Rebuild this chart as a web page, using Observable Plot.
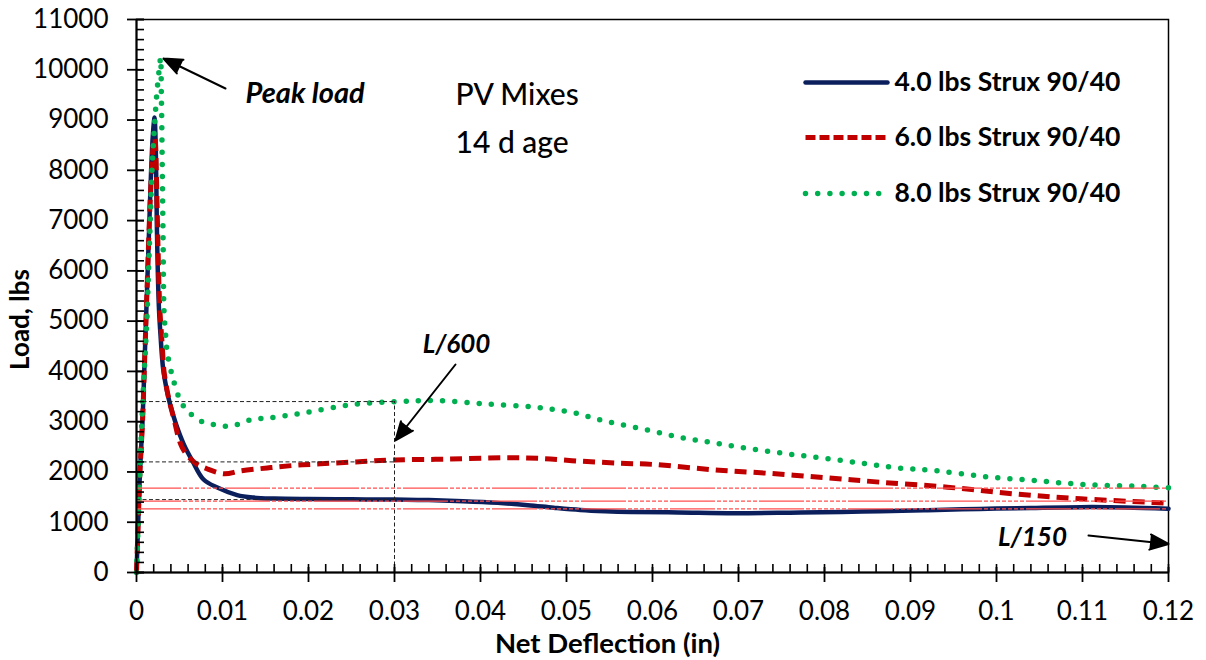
<!DOCTYPE html>
<html>
<head>
<meta charset="utf-8">
<script src="https://cdn.jsdelivr.net/npm/d3@7"></script>
<script src="https://cdn.jsdelivr.net/npm/@observablehq/plot@0.6"></script>
<style>
  html, body { margin: 0; padding: 0; background: #fff; }
  #chart { width: 1206px; height: 660px; }
</style>
</head>
<body>
<div id="chart"></div>
<script>
// ---------- data ----------
const seriesNames = ["4.0 lbs Strux 90/40", "6.0 lbs Strux 90/40", "8.0 lbs Strux 90/40"];

const deflection4 = [0, 0.0002, 0.0004, 0.0007, 0.0009, 0.0011, 0.0013, 0.0015, 0.0017, 0.0019, 0.0021, 0.0022, 0.0023, 0.0024, 0.0026, 0.0028, 0.0031, 0.0035, 0.0039, 0.0046, 0.0055, 0.0065, 0.0078, 0.0094, 0.0117, 0.0136, 0.016, 0.02, 0.025, 0.03, 0.034, 0.038, 0.042, 0.0455, 0.0485, 0.0516, 0.0545, 0.0575, 0.063, 0.0695, 0.076, 0.082, 0.0865, 0.092, 0.098, 0.104, 0.1098, 0.115, 0.12];
const load4 = [0, 1000, 2000, 3000, 4000, 5000, 6000, 7000, 8000, 8700, 9050, 8700, 7800, 6600, 5300, 4700, 4050, 3650, 3350, 2950, 2550, 2220, 1850, 1690, 1540, 1490, 1470, 1460, 1455, 1450, 1440, 1418, 1385, 1340, 1290, 1245, 1220, 1205, 1195, 1180, 1190, 1205, 1220, 1240, 1265, 1285, 1300, 1295, 1270];

const deflection6 = [0, 0.0002, 0.0004, 0.0007, 0.0009, 0.0011, 0.0013, 0.0015, 0.0017, 0.0019, 0.0021, 0.0022, 0.0023, 0.0025, 0.0027, 0.003, 0.0032, 0.0037, 0.0043, 0.0053, 0.0067, 0.0082, 0.0102, 0.0121, 0.0152, 0.0183, 0.0214, 0.0255, 0.03, 0.0361, 0.0427, 0.047, 0.0516, 0.0563, 0.0602, 0.0667, 0.0733, 0.0803, 0.0865, 0.0943, 0.102, 0.1098, 0.12];
const load6 = [0, 1000, 2000, 3000, 4000, 5000, 6000, 7000, 7800, 8400, 8650, 8550, 8000, 6500, 5300, 4500, 4000, 3500, 3090, 2490, 2195, 2063, 1963, 2020, 2080, 2130, 2162, 2200, 2240, 2254, 2282, 2268, 2214, 2174, 2148, 2049, 1975, 1884, 1796, 1697, 1565, 1466, 1379];

const deflection8 = [0, 0.0002, 0.0005, 0.0009, 0.0012, 0.0014, 0.0016, 0.0018, 0.0021, 0.0024, 0.0027, 0.0028, 0.0029, 0.0030, 0.0031, 0.0032, 0.0034, 0.0036, 0.0043, 0.0051, 0.0059, 0.0074, 0.009, 0.0109, 0.0133, 0.0156, 0.0195, 0.0249, 0.0303, 0.0348, 0.0404, 0.0462, 0.0505, 0.0545, 0.0588, 0.0631, 0.0671, 0.0714, 0.0757, 0.0799, 0.0844, 0.0884, 0.0927, 0.0985, 0.1043, 0.1102, 0.116, 0.12];
const load8 = [0, 1000, 2500, 4000, 5000, 6000, 7000, 8000, 8900, 9600, 10100, 10240, 9400, 8000, 6500, 5200, 4700, 4350, 3820, 3420, 3220, 3020, 2940, 2910, 3040, 3080, 3175, 3335, 3400, 3420, 3355, 3290, 3190, 3010, 2858, 2692, 2580, 2460, 2360, 2274, 2174, 2082, 2029, 1910, 1830, 1750, 1717, 1685];

// L/600 reference loads (black dashed) and L/150 reference loads (red)
const deflectionL600 = 0.03;
const loadsL600 = [3400, 2200, 1450];
const loadsL150 = [1680, 1420, 1265];

const xTickValues = [0, 0.01, 0.02, 0.03, 0.04, 0.05, 0.06, 0.07, 0.08, 0.09, 0.1, 0.11, 0.12];
const yTickValues = [0, 1000, 2000, 3000, 4000, 5000, 6000, 7000, 8000, 9000, 10000, 11000];
const xMinorValues = d3.range(0, 61).map(i => i * 0.002);
const yMinorValues = d3.range(0, 56).map(i => i * 200);

const infoLines = ["PV Mixes", "14 d age"];
const xTitle = "Net Deflection (in)";
const yTitle = "Load, lbs";

// ---------- layout / style ----------
const W = 1206, H = 660;
const mL = 136, mR = 38, mT = 19, mB = 88;
const xDomain = [0, 0.12], yDomain = [0, 11000];
const pxX = p => (p - mL) / (W - mL - mR) * (xDomain[1] - xDomain[0]);
const pxY = p => (H - mB - p) / (H - mB - mT) * (yDomain[1] - yDomain[0]);

const styles = [
  {stroke: "#0b1f5c", strokeWidth: 4.5, dash: null, legendDash: null, cap: "round"},
  {stroke: "#c00000", strokeWidth: 5, dash: "12,7", legendDash: "10,4", cap: "butt"},
  {stroke: "#00b050", strokeWidth: 5.5, dash: "0,12.2", legendDash: "0,12.2", cap: "round"}
];
const seriesX = [deflection4, deflection6, deflection8];
const seriesY = [load4, load6, load8];

const font = "Lato, 'Open Sans', sans-serif";

const lineMarks = seriesX.map((xs, k) => Plot.line(xs.map((x, i) => ({x, y: seriesY[k][i]})), {
  x: "x", y: "y",
  stroke: styles[k].stroke, strokeWidth: styles[k].strokeWidth,
  strokeDasharray: styles[k].dash, strokeLinecap: styles[k].cap, strokeLinejoin: "round",
  curve: "catmull-rom"
}));

const legendRowsPx = [82, 137, 193];
const legendMarks = seriesNames.flatMap((name, k) => [
  Plot.link([name], {
    x1: pxX(805), x2: pxX(887), y1: pxY(legendRowsPx[k]), y2: pxY(legendRowsPx[k]),
    stroke: styles[k].stroke, strokeWidth: styles[k].strokeWidth,
    strokeDasharray: styles[k].legendDash, strokeLinecap: styles[k].cap
  }),
  Plot.text([name], {
    x: pxX(894), y: pxY(legendRowsPx[k]), text: d => d,
    textAnchor: "start", fontWeight: "bold", fontSize: 26.5, fill: "#000"
  })
]);

const arrowStyle = {stroke: "#000", fill: "#000", strokeWidth: 2, headLength: 15, headAngle: 45};

const chart = Plot.plot({
  width: W, height: H,
  marginLeft: mL, marginRight: mR, marginTop: mT, marginBottom: mB,
  x: {domain: xDomain},
  y: {domain: yDomain},
  style: {fontFamily: font, fontSize: "26px", color: "#000", background: "#fff", overflow: "visible"},
  marks: [
    Plot.frame({stroke: "#000", strokeWidth: 1.5}),
    // data lines
    ...lineMarks,
    // L/600 guide lines
    Plot.ruleY(loadsL600, {x1: 0, x2: deflectionL600, stroke: "#222", strokeWidth: 1, strokeDasharray: "4,2.5"}),
    Plot.ruleX([deflectionL600], {y1: 0, y2: loadsL600[0], stroke: "#222", strokeWidth: 1, strokeDasharray: "4,2.5"}),
    // L/150 guide lines
    Plot.ruleY(loadsL150, {x1: xDomain[0], x2: xDomain[1], stroke: "#ff4f4f", strokeWidth: 1.3,
      strokeDasharray: "45,2,4,2,4,2,4,2,4,2,4,2,4,2,4,2"}),
    // axis lines
    Plot.ruleY([0], {stroke: "#000", strokeWidth: 2}),
    Plot.ruleX([0], {stroke: "#000", strokeWidth: 2}),
    // tick marks
    Plot.ruleX(xMinorValues, {y1: 0, y2: 0, insetTop: 0, insetBottom: 8, stroke: "#000", strokeWidth: 1.6}),
    Plot.ruleX(xTickValues, {y1: 0, y2: 0, insetTop: 10, insetBottom: 5, stroke: "#000", strokeWidth: 1.8}),
    Plot.ruleY(yMinorValues, {x1: 0, x2: 0, insetLeft: 8, insetRight: 0, stroke: "#000", strokeWidth: 1.6}),
    Plot.ruleY(yTickValues, {x1: 0, x2: 0, insetLeft: 8, insetRight: 9, stroke: "#000", strokeWidth: 1.8}),
    // tick labels
    Plot.axisX({ticks: xTickValues, tickSize: 0, tickPadding: 29, label: null,
      tickFormat: d => String(+d.toFixed(2))}),
    Plot.axisY({ticks: yTickValues, tickSize: 0, tickPadding: 28, label: null,
      tickFormat: d3.format("d")}),
    // axis titles
    Plot.text([xTitle], {x: pxX(607), y: pxY(644), text: d => d, fontWeight: "bold", fontSize: 27.5}),
    Plot.text([yTitle], {x: pxX(20), y: pxY(319), text: d => d, fontWeight: "bold", fontSize: 26, rotate: -90}),
    // info text
    Plot.text(infoLines, {x: pxX(455), y: (d, i) => pxY([95, 142.5][i]), text: d => d,
      textAnchor: "start", fontSize: 30, fontWeight: 500}),
    // annotations
    Plot.text(["Peak load"], {x: pxX(245), y: pxY(93), text: d => d, textAnchor: "start",
      fontWeight: "bold", fontStyle: "italic", fontSize: 29}),
    Plot.arrow([0], {x1: pxX(225), y1: pxY(88), x2: pxX(163), y2: pxY(58), ...arrowStyle}),
    Plot.text(["L/600"], {x: pxX(456), y: pxY(344), text: d => d,
      fontWeight: "bold", fontStyle: "italic", fontSize: 26}),
    Plot.arrow([0], {x1: pxX(455), y1: pxY(364), x2: pxX(395), y2: pxY(440), ...arrowStyle}),
    Plot.text(["L/150"], {x: pxX(1032), y: pxY(537), text: d => d,
      fontWeight: "bold", fontStyle: "italic", fontSize: 26}),
    Plot.arrow([0], {x1: pxX(1088), y1: pxY(535), x2: pxX(1168), y2: pxY(543.5), ...arrowStyle}),
    // legend
    ...legendMarks
  ]
});

document.getElementById("chart").appendChild(chart);
</script>
</body>
</html>
